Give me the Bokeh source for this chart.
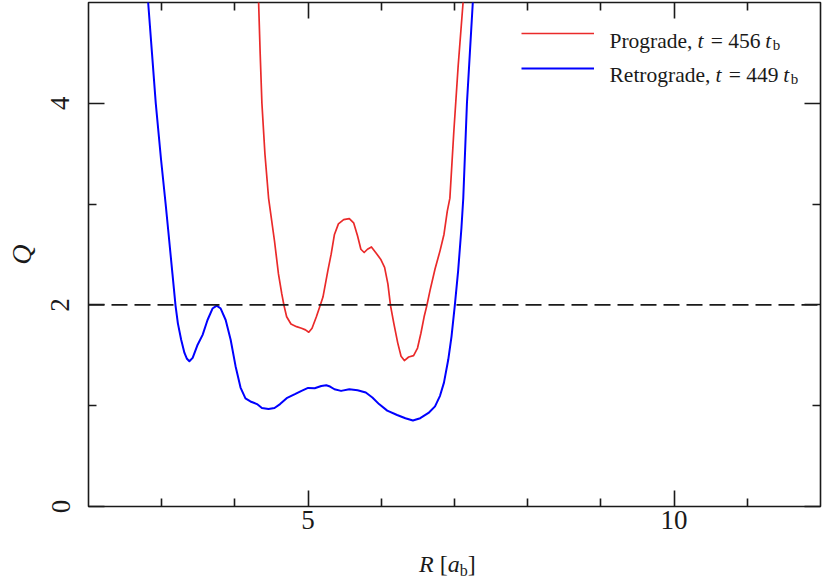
from bokeh.plotting import figure
from bokeh.layouts import column
from bokeh.models import (Range1d, FixedTicker, LinearAxis, Span, Label, Legend,
                          LegendItem, CustomJSTickFormatter, Div)
from bokeh.embed import file_html
from bokeh.resources import INLINE

# ---- data ----
R_pro = [4.31, 4.324, 4.345, 4.369, 4.41, 4.46, 4.541, 4.595, 4.640, 4.671, 4.707, 4.766,
         4.842, 4.910, 4.964, 5.009, 5.054, 5.113, 5.158, 5.203, 5.27, 5.315, 5.360,
         5.414, 5.486, 5.563, 5.622, 5.676, 5.721, 5.766, 5.811, 5.865, 5.923, 5.991,
         6.045, 6.090, 6.126, 6.171, 6.225, 6.270, 6.315, 6.374, 6.441, 6.495, 6.541,
         6.585, 6.622, 6.666, 6.734, 6.802, 6.856, 6.901, 6.937, 6.99, 7.05, 7.117, 7.13]
Q_pro = [5.3, 5.0, 4.5, 4.0, 3.5, 3.06, 2.634, 2.307, 2.111, 1.993, 1.882, 1.811,
         1.784, 1.768, 1.752, 1.729, 1.768, 1.882, 1.980, 2.078, 2.34, 2.503, 2.699,
         2.804, 2.846, 2.856, 2.814, 2.683, 2.552, 2.520, 2.552, 2.575, 2.520, 2.454,
         2.373, 2.209, 1.993, 1.817, 1.621, 1.490, 1.448, 1.483, 1.497, 1.572, 1.719,
         1.882, 1.993, 2.144, 2.356, 2.536, 2.699, 2.928, 3.059, 3.71, 4.37, 5.0, 5.3]

R_ret = [2.784, 2.815, 2.867, 2.919, 2.99, 3.054, 3.088, 3.147, 3.189, 3.221, 3.266,
         3.311, 3.345, 3.378, 3.423, 3.491, 3.559, 3.626, 3.694, 3.752, 3.806, 3.874,
         3.942, 4.009, 4.077, 4.144, 4.212, 4.302, 4.369, 4.459, 4.541, 4.617, 4.707,
         4.820, 4.910, 5.000, 5.090, 5.180, 5.248, 5.30, 5.360, 5.450, 5.563, 5.676,
         5.788, 5.878, 5.969, 6.081, 6.216, 6.329, 6.432, 6.532, 6.645, 6.734, 6.802,
         6.856, 6.915, 6.959, 7.004, 7.050, 7.095, 7.12, 7.17, 7.21, 7.25, 7.274]
Q_ret = [5.3, 5.0, 4.5, 4.0, 3.45, 3.0, 2.748, 2.307, 1.993, 1.817, 1.654,
         1.523, 1.465, 1.441, 1.474, 1.605, 1.703, 1.850, 1.964, 1.993, 1.964, 1.850,
         1.654, 1.392, 1.180, 1.072, 1.042, 1.016, 0.977, 0.967, 0.977, 1.016, 1.075,
         1.114, 1.147, 1.176, 1.173, 1.196, 1.203, 1.190, 1.163, 1.147, 1.163, 1.154,
         1.131, 1.082, 1.016, 0.951, 0.908, 0.876, 0.853, 0.876, 0.928, 0.993, 1.098,
         1.229, 1.458, 1.686, 1.993, 2.340, 2.765, 3.06, 4.0, 4.5, 5.0, 5.3]

Q_crit = 2.0
x_major = [5, 10]
x_minor = [3, 4, 6, 7, 8, 9, 11]
y_major = [0, 2, 4]
y_minor = [1, 3]
labels_pro = ("Prograde,", "= 456")
labels_ret = ("Retrograde,", "= 449")

SERIF = "Liberation Serif"
INK = "#1a1a1a"

# ---- layout ----
W, H = 822, 552
BL, BR, BT, BB = 88, 2, 2, 46
FW, FH = W - BL - BR, H - BT - BB
X0, X1, Y0, Y1 = 2, 12, 0, 5

p = figure(width=W, height=H, output_backend="svg", toolbar_location=None,
           x_range=Range1d(X0, X1), y_range=Range1d(Y0, Y1),
           min_border_left=BL, min_border_right=BR, min_border_top=BT,
           min_border_bottom=BB)
p.grid.visible = False
p.outline_line_color = INK
p.outline_line_width = 1.6
p.background_fill_color = "white"
p.border_fill_color = "white"


def style_axis(ax, major, minor, labels=True, size="27px"):
    ax.ticker = FixedTicker(ticks=major, minor_ticks=minor)
    ax.axis_line_color = None
    ax.major_tick_in = 16
    ax.major_tick_out = 0
    ax.minor_tick_in = 8
    ax.minor_tick_out = 0
    ax.major_tick_line_color = INK
    ax.minor_tick_line_color = INK
    ax.major_tick_line_width = 1.6
    ax.minor_tick_line_width = 1.6
    ax.major_label_text_font = SERIF
    ax.major_label_text_color = INK
    if labels:
        ax.major_label_text_font_size = size
    else:
        ax.formatter = CustomJSTickFormatter(code="return ''")
        ax.major_label_text_font_size = "1px"
        ax.major_label_standoff = 0


xax = p.xaxis[0]
style_axis(xax, x_major, x_minor)
xax.major_label_standoff = 4
xax.axis_label = None

yax = p.yaxis[0]
style_axis(yax, y_major, y_minor)
yax.major_label_orientation = "vertical"
yax.major_label_standoff = 19
yax.axis_label = "Q"
yax.axis_label_text_font = SERIF
yax.axis_label_text_font_style = "italic"
yax.axis_label_text_font_size = "28px"
yax.axis_label_text_color = INK
yax.axis_label_standoff = 12

top = LinearAxis()
style_axis(top, x_major, x_minor, labels=False)
p.add_layout(top, "above")
right = LinearAxis()
style_axis(right, y_major, y_minor, labels=False)
p.add_layout(right, "right")

p.add_layout(Span(location=Q_crit, dimension="width", line_color=INK,
                  line_width=1.8, line_dash="16 7"))

r_pro = p.line(R_pro, Q_pro, line_color="#ea2a2a", line_width=1.7, line_join="round")
r_ret = p.line(R_ret, Q_ret, line_color="#0000ff", line_width=2.0, line_join="round")

legend = Legend(items=[LegendItem(label=" ", renderers=[r_pro]),
                       LegendItem(label=" ", renderers=[r_ret])],
                location=(433, 428), glyph_width=73, glyph_height=20,
                label_height=20, label_width=1, label_standoff=0, spacing=15,
                padding=0, margin=0, border_line_color=None,
                background_fill_alpha=0, label_text_font_size="10px")
p.add_layout(legend)

# Times/Liberation Serif advance widths (per em)
ADV = {"P": .556, "R": .667, "r": .333, "o": .5, "g": .5, "a": .444, "d": .5,
       "e": .444, "t": .278, ",": .25, " ": .25, "=": .564, "4": .5, "5": .5,
       "6": .5, "9": .5}


def width(s, size):
    return sum(ADV.get(c, .5) for c in s) * size


def to_dx(px):
    return X0 + (px - BL) / FW * (X1 - X0)


def to_dy(py):
    return Y0 + (H - BB - py) / FH * (Y1 - Y0)


def txt(px, py, s, size=21.5, style="normal", dy=0):
    p.add_layout(Label(x=to_dx(px), y=to_dy(py), text=s, y_offset=dy,
                       text_font=SERIF, text_font_size=f"{size}px",
                       text_font_style=style, text_color=INK,
                       text_baseline="alphabetic", text_align="left"))


def legend_row(name, value, py, F=21.5):
    x = 609
    txt(x, py, name, F)
    x += width(name, F) + 5
    txt(x, py, "t", F, "italic")
    x += 13.3
    txt(x, py, value, F)
    x += width(value, F) + 4.7
    txt(x, py, "t", F, "italic")
    x += 7.5
    txt(x, py, "b", 15, dy=-4)


legend_row(*labels_pro, 40)
legend_row(*labels_ret, 74)

xlabel = Div(
    text=("<div style=\"padding-left:419px;font-family:'Liberation Serif';"
          "font-size:24px;line-height:24px;white-space:nowrap;color:#1a1a1a\">"
          "<i>R</i> [<i>a</i><span style=\"font-size:16px;position:relative;"
          "top:4px\">b</span>]</div>"),
    width=W, height=26, margin=(0, 0, 0, 0))

layout = column(p, xlabel, spacing=0)
open("out.html", "w").write(file_html(layout, INLINE))
